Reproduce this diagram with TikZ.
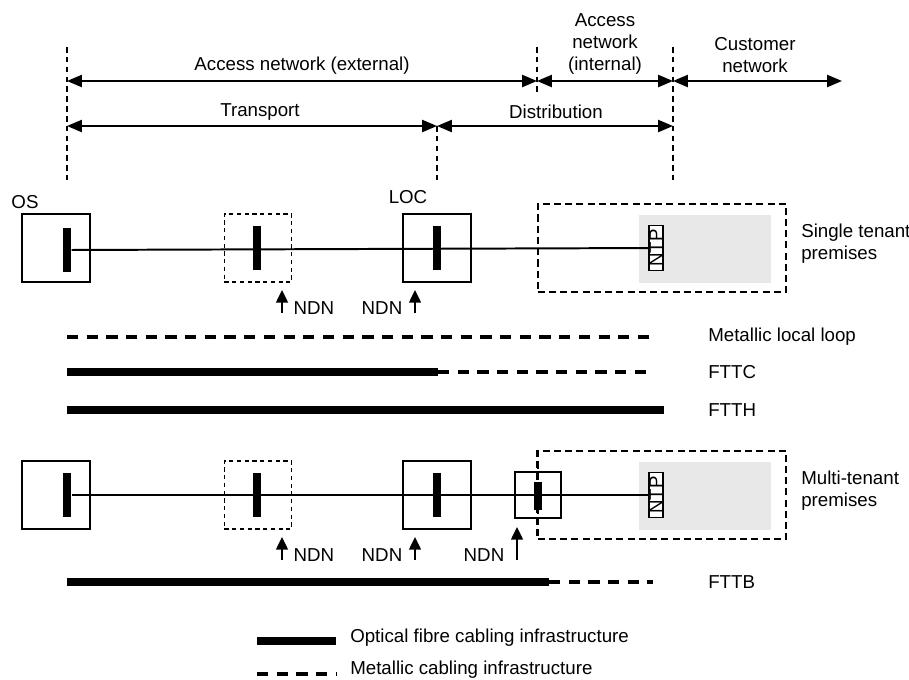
\documentclass[tikz,border=0pt]{standalone}
\usepackage{fontspec}
\setmainfont{Liberation Sans}
\usetikzlibrary{positioning}
\usetikzlibrary{arrows.meta}
\definecolor{premgray}{gray}{0.91}
\tikzset{
    boxn/.style = {rectangle, line width=1.9pt, draw=black, minimum width=1.7cm, minimum height=1.7cm, inner sep=0pt},
    boxs/.style = {rectangle, line width=1.9pt, draw=black, minimum width=1.15cm, minimum height=1.15cm, inner sep=0pt},
    boxd/.style = {rectangle, line width=1.1pt, draw=black, dash pattern=on 3pt off 2.5pt, minimum width=1.68cm, minimum height=1.7cm, inner sep=0pt},
    barn/.style = {rectangle, fill=black, minimum width=0.22cm, minimum height=1.12cm, inner sep=0pt},
    bars/.style = {rectangle, fill=black, minimum width=0.2cm, minimum height=0.68cm, inner sep=0pt},
    premd/.style = {rectangle, line width=1.4pt, draw=black, dash pattern=on 5pt off 3pt, minimum width=6.22cm, minimum height=2.2cm, inner sep=0pt},
    premg/.style = {rectangle, fill=premgray, minimum width=3.32cm, minimum height=1.68cm, inner sep=0pt},
    ntpn/.style = {rectangle, line width=1pt, draw=black, fill=white, rotate=90, inner xsep=2.5pt, inner ysep=0.5pt, font=\fontsize{13.3}{15.6}\selectfont},
    txtn/.style = {align=center, inner sep=0pt, font=\fontsize{13.3}{15.6}\selectfont},
    txtl/.style = {anchor=west, align=left, inner sep=0pt, font=\fontsize{13.3}{15.6}\selectfont},
    edgec/.style = {-, line width=1.4pt, black}, % cable
    edgea/.style = {{Triangle[length=10.5pt,width=8.5pt]}-{Triangle[length=10.5pt,width=8.5pt]}, line width=1.4pt, black}, % span
    edgev/.style = {-, line width=0.9pt, black, dash pattern=on 4pt off 3pt}, % border
    edgeu/.style = {-{Triangle[length=9pt,width=8.5pt]}, line width=1.1pt, black}, % ndn
    edgef/.style = {-, line width=5pt, black}, % fibre
    edgem/.style = {-, line width=2.2pt, black, dash pattern=on 8pt off 6pt} % metallic
}
\begin{document}
\begin{tikzpicture}[x=0.025cm, y=-0.025cm]
\path[use as bounding box] (0,0) rectangle (909,679);
% borders
\draw[edgev] (67,47) -- (67,180);
\draw[edgev] (537,47) -- (537,92);
\draw[edgev] (673,47) -- (673,180);
\draw[edgev] (437,126) -- (437,180);
%
\coordinate (pa) at (67,81);
\coordinate (pb) at (537,81);
\coordinate (pc) at (673,81);
\coordinate (pd) at (842,81);
\coordinate (qa) at (67,126);
\coordinate (qb) at (437,126);
\coordinate (qc) at (673,126);
\draw[edgea] (pa) -- (pb);
\draw[edgea] (pb) -- (pc);
\draw[edgea] (pc) -- (pd);
\draw[edgea] (qa) -- (qb);
\draw[edgea] (qb) -- (qc);
\node[txtn] at (302,66) (ext) {Access network (external)};
\node[txtn] at (605,44) (int) {Access\\network\\(internal)};
\node[txtn] at (755,55) (cus) {Customer\\network};
\node[txtn] at (260,112) (tra) {Transport};
\node[txtn] at (556,112) (dis) {Distribution};
% single tenant
\node[txtn] at (25,202) (osl) {OS};
\node[txtn] at (408,197) (locl) {LOC};
\node[boxn] at (56,248) (os1) {};
\node[boxd] at (258,248) (ndn1) {};
\node[boxn] at (437,248) (loc1) {};
\node[premd] at (662,248) (prem1) {};
\node[premg] at (705,249) (gr1) {};
\node[ntpn] at (656,248) (ntp1) {NTP};
\node[barn] at (67,250) (os1b) {};
\node[barn] at (257,248) (ndn1b) {};
\node[barn] at (437,248) (loc1b) {};
\draw[edgec] (os1b) -- (ntp1);
\node[txtl] at (801,244) (st) {Single tenant\\premises};
%
\coordinate (u1a) at (282,313);
\coordinate (u1b) at (282,290);
\coordinate (u2a) at (415,313);
\coordinate (u2b) at (415,290);
\draw[edgeu] (u1a) -- (u1b);
\draw[edgeu] (u2a) -- (u2b);
\node[txtn] at (314,308) (n1) {NDN};
\node[txtn] at (382,308) (n2) {NDN};
% lines
\draw[edgem] (67,337) -- (650,337);
\draw[edgef] (67,372) -- (438,372);
\draw[edgem] (438,372) -- (650,372);
\draw[edgef] (67,410) -- (664,410);
\node[txtl] at (708,337) (mll) {Metallic local loop};
\node[txtl] at (708,372) (fttc) {FTTC};
\node[txtl] at (708,410) (ftth) {FTTH};
% multi-tenant
\node[boxn] at (56,495) (os2) {};
\node[boxd] at (258,495) (ndn2) {};
\node[boxn] at (437,495) (loc2) {};
\node[premd] at (662,495) (prem2) {};
\node[premg] at (705,496) (gr2) {};
\node[boxs] at (538,495) (bep) {};
\node[ntpn] at (656,495) (ntp2) {NTP};
\node[barn] at (67,495) (os2b) {};
\node[barn] at (257,495) (ndn2b) {};
\node[barn] at (437,495) (loc2b) {};
\node[bars] at (538,496) (bepb) {};
\draw[edgec] (os2b) -- (ntp2);
\draw[premd] (prem2.north west) -- (prem2.south west);
\node[txtl] at (801,491) (mt) {Multi-tenant\\premises};
%
\coordinate (u3a) at (282,560);
\coordinate (u3b) at (282,537);
\coordinate (u4a) at (415,560);
\coordinate (u4b) at (415,537);
\coordinate (u5a) at (517,560);
\coordinate (u5b) at (517,527);
\draw[edgeu] (u3a) -- (u3b);
\draw[edgeu] (u4a) -- (u4b);
\draw[edgeu] (u5a) -- (u5b);
\node[txtn] at (314,555) (n3) {NDN};
\node[txtn] at (382,555) (n4) {NDN};
\node[txtn] at (484,555) (n5) {NDN};
%
\draw[edgef] (67,582) -- (549,582);
\draw[edgem] (549,582) -- (653,582);
\node[txtl] at (708,582) (fttb) {FTTB};
% legend
\draw[edgef] (257,641) -- (336,641);
\draw[edgem] (257,674) -- (336,674);
\node[txtl] at (350,638) (ofc) {Optical fibre cabling infrastructure};
\node[txtl] at (350,670) (mci) {Metallic cabling infrastructure};
\end{tikzpicture}
\end{document}
